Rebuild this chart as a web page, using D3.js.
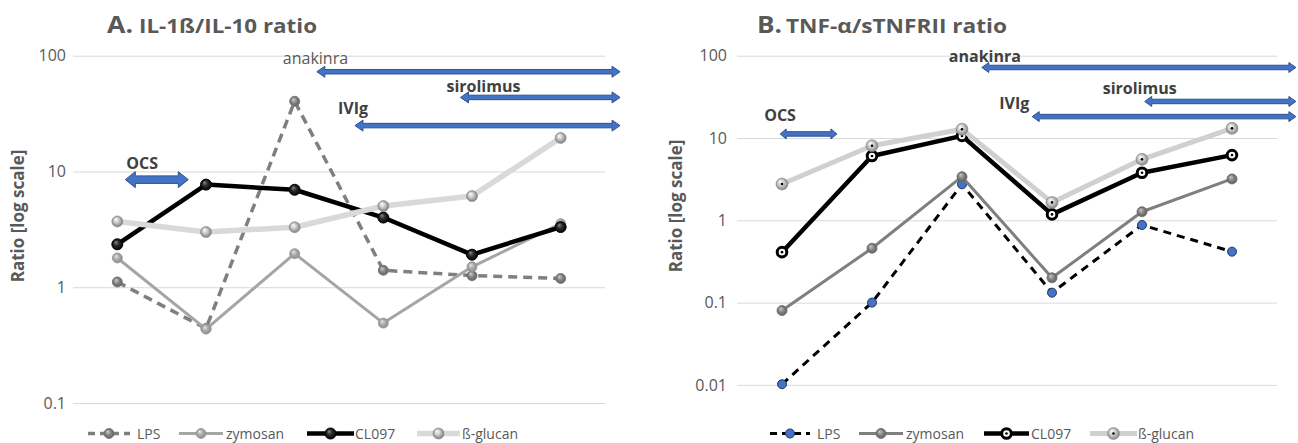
<!DOCTYPE html>
<html><head><meta charset="utf-8">
<script src="https://cdn.jsdelivr.net/npm/d3@7"></script>
<style>
body{margin:0;background:#fff}
text{font-family:'Open Sans',sans-serif}
</style>
</head><body>
<svg id="c" width="1298" height="443"></svg>
<script>
// ---------- data ----------
const timepoints = ["T1", "T2", "T3", "T4", "T5", "T6"];
const seriesNames = ["LPS", "zymosan", "CL097", "ß-glucan"];

const tickValuesA = [0.1, 1, 10, 100];
const tickLabelsA = ["0.1", "1", "10", "100"];
const tickValuesB = [0.01, 0.1, 1, 10, 100];
const tickLabelsB = ["0.01", "0.1", "1", "10", "100"];

// A. IL-1ß/IL-10 ratio
const lpsA     = [1.11, 0.44, 40.4, 1.40, 1.26, 1.19];
const zymosanA = [1.79, 0.435, 1.95, 0.49, 1.50, 3.54];
const cl097A   = [2.35, 7.7, 6.95, 4.0, 1.91, 3.31];
const glucanA  = [3.7, 3.0, 3.3, 5.03, 6.13, 19.5];

// B. TNF-α/sTNFRII ratio
const lpsB     = [0.0102, 0.1, 2.74, 0.132, 0.877, 0.416];
const zymosanB = [0.080, 0.457, 3.39, 0.20, 1.27, 3.18];
const cl097B   = [0.41, 6.04, 10.6, 1.18, 3.79, 6.2];
const glucanB  = [2.76, 8.06, 12.8, 1.65, 5.5, 13.1];

// treatment periods (in timepoint index units) and level (in ratio units)
const treatmentNames = ["anakinra", "sirolimus", "IVIg", "OCS"];
const treatStartA = [2.25, 3.87, 2.68, 0.09];
const treatEndA   = [5.67, 5.67, 5.67, 0.80];
const treatLevelA = [72.7, 43.6, 24.9, 8.5];
const treatStartB = [2.22, 4.03, 2.78, -0.02];
const treatEndB   = [5.71, 5.71, 5.71, 0.61];
const treatLevelB = [71.9, 27.8, 18.2, 11.2];

// ---------- drawing ----------
const svg = d3.select("#c");
svg.append("rect").attr("width", 1298).attr("height", 443).attr("fill", "#fff");
const defs = svg.append("defs");
function sphere(id, stops) {
  const g = defs.append("radialGradient").attr("id", id)
    .attr("cx", "50%").attr("cy", "50%").attr("r", "55%").attr("fx", "35%").attr("fy", "30%");
  stops.forEach(s => g.append("stop").attr("offset", s[0]).attr("stop-color", s[1]));
}
sphere("gLpsA", [["0%", "#cfcfcf"], ["55%", "#7f7f7f"], ["100%", "#5f5f5f"]]);
sphere("gZymA", [["0%", "#e6e6e6"], ["55%", "#a5a5a5"], ["100%", "#8a8a8a"]]);
sphere("gClA",  [["0%", "#8a8a8a"], ["45%", "#2a2a2a"], ["100%", "#000"]]);
sphere("gGluA", [["0%", "#ffffff"], ["40%", "#d0d0d0"], ["100%", "#737373"]]);
sphere("gZymB", [["0%", "#c8c8c8"], ["55%", "#7f7f7f"], ["100%", "#5a5a5a"]]);
sphere("gGluB", [["0%", "#ffffff"], ["50%", "#c9c9c9"], ["100%", "#7a7a7a"]]);

const panels = [
  {
    title1: "A.", title2: "IL-1ß/IL-10 ratio", t1x: 107, t2x: 139, t1len: 26, t2len: 178,
    xRange: [73, 605], yRange: [403, 55.7], domain: [0.1, 100],
    ticks: tickValuesA, tickLabels: tickLabelsA, tickX: 66,
    yTitleX: 24, yTitleY: 216,
    values: [lpsA, zymosanA, cl097A, glucanA],
    styles: [
      {stroke: "#7f7f7f", width: 3.5, dash: "9,6", r: 5, fill: "url(#gLpsA)", mstroke: "#6f6f6f", mw: 0.8},
      {stroke: "#a5a5a5", width: 3, dash: null, r: 5, fill: "url(#gZymA)", mstroke: "#999", mw: 0.8},
      {stroke: "#000000", width: 4.5, dash: null, r: 5.5, fill: "url(#gClA)", mstroke: "#000", mw: 1},
      {stroke: "#d9d9d9", width: 5.5, dash: null, r: 5.5, fill: "url(#gGluA)", mstroke: "#8a8a8a", mw: 0.6}
    ],
    treat: {start: treatStartA, end: treatEndA, level: treatLevelA},
    arrowSize: [[4.5, 5.5, 8], [4.5, 5.5, 8], [4.5, 5.5, 8], [7.5, 8, 10]],
    labels: [[-34, -8, 400], [-14, -5.5, 700], [-17, -12, 700], [1, -11, 700]],
    legendLine: [[88, 130], [179, 223], [307, 354], [417, 460]],
    legendText: [137, 226, 355, 462]
  },
  {
    title1: "B.", title2: "TNF-α/sTNFRII ratio", t1x: 757, t2x: 786, t1len: 25, t2len: 221,
    xRange: [737, 1277], yRange: [384.9, 55.7], domain: [0.01, 100],
    ticks: tickValuesB, tickLabels: tickLabelsB, tickX: 727,
    yTitleX: 682, yTitleY: 206,
    values: [lpsB, zymosanB, cl097B, glucanB],
    styles: [
      {stroke: "#000000", width: 3, dash: "8,6", r: 4.5, fill: "#4472c4", mstroke: "#1f3864", mw: 1},
      {stroke: "#7f7f7f", width: 3, dash: null, r: 5, fill: "url(#gZymB)", mstroke: "#6a6a6a", mw: 0.8},
      {stroke: "#000000", width: 4.5, dash: null, r: 4.8, fill: "#ffffff", mstroke: "#000", mw: 3, dot: true},
      {stroke: "#d0d0d0", width: 5, dash: null, r: 6, fill: "url(#gGluB)", mstroke: "#8a8a8a", mw: 0.6, dot: true}
    ],
    treat: {start: treatStartB, end: treatEndB, level: treatLevelB},
    arrowSize: [[4.5, 5, 7], [4.5, 5, 7], [4.5, 5, 7], [4.5, 5, 6]],
    labels: [[-33, -5.7, 700], [-42, -7.7, 700], [-33, -7.7, 700], [-16, -12.5, 700]],
    legendLine: [[770, 810], [859, 903], [984, 1029], [1090, 1137]],
    legendText: [817, 906, 1031, 1138]
  }
];

function arrowPath(x0, x1, y, sh, hh, hl) {
  const s = sh / 2;
  return `M${x0},${y} L${x0 + hl},${y - hh} L${x0 + hl},${y - s} L${x1 - hl},${y - s} L${x1 - hl},${y - hh} L${x1},${y} L${x1 - hl},${y + hh} L${x1 - hl},${y + s} L${x0 + hl},${y + s} L${x0 + hl},${y + hh} Z`;
}

function marker(g, cx, cy, st) {
  g.append("circle").attr("cx", cx).attr("cy", cy).attr("r", st.r)
    .attr("fill", st.fill).attr("stroke", st.mstroke).attr("stroke-width", st.mw);
  if (st.dot) g.append("circle").attr("cx", cx).attr("cy", cy).attr("r", 1.3).attr("fill", "#000");
}

panels.forEach(p => {
  const g = svg.append("g");
  const xp = d3.scalePoint().domain(timepoints).range(p.xRange).padding(0.5);
  const xi = d3.scaleLinear().domain([-0.5, timepoints.length - 0.5]).range(p.xRange);
  const y = d3.scaleLog().domain(p.domain).range(p.yRange);

  const axis = d3.axisLeft(y).tickValues(p.ticks)
    .tickFormat((d, i) => p.tickLabels[i])
    .tickSize(-(p.xRange[1] - p.xRange[0])).tickPadding(7);
  const ag = g.append("g").attr("transform", `translate(${p.xRange[0]},0)`).call(axis);
  ag.select(".domain").remove();
  ag.selectAll(".tick line").attr("stroke", "#d9d9d9").attr("stroke-width", 1);
  ag.selectAll(".tick text").attr("fill", "#595959").attr("font-size", 16)
    .attr("font-family", "'Open Sans',sans-serif").attr("x", p.tickX - p.xRange[0]);

  g.append("text").attr("x", p.t1x).attr("y", 33).attr("font-size", 23).attr("font-weight", 700)
    .attr("fill", "#595959").attr("textLength", p.t1len).attr("lengthAdjust", "spacingAndGlyphs").text(p.title1);
  g.append("text").attr("x", p.t2x).attr("y", 33).attr("font-size", 19).attr("font-weight", 700)
    .attr("fill", "#595959").attr("textLength", p.t2len).attr("lengthAdjust", "spacingAndGlyphs").text(p.title2);

  g.append("text").attr("transform", `translate(${p.yTitleX},${p.yTitleY}) rotate(-90)`)
    .attr("text-anchor", "middle").attr("font-size", 17).attr("font-weight", 700)
    .attr("fill", "#595959").text("Ratio [log scale]");

  treatmentNames.forEach((name, i) => {
    const x0 = xi(p.treat.start[i]), x1 = xi(p.treat.end[i]), yy = y(p.treat.level[i]);
    const [sh, hh, hl] = p.arrowSize[i];
    g.append("path").attr("d", arrowPath(x0, x1, yy, sh, hh, hl))
      .attr("fill", "#4472c4").attr("stroke", "#2f528f").attr("stroke-width", 1);
    const [dx, dy, fw] = p.labels[i];
    g.append("text").attr("x", x0 + dx).attr("y", yy + dy).attr("font-size", 16)
      .attr("font-weight", fw).attr("fill", fw === 700 ? "#404040" : "#595959").text(name);
  });

  const line = d3.line().x((d, i) => xp(timepoints[i])).y(d => y(d));
  p.values.forEach((vals, si) => {
    const st = p.styles[si];
    const sg = g.append("g");
    sg.append("path").datum(vals).attr("d", line).attr("fill", "none")
      .attr("stroke", st.stroke).attr("stroke-width", st.width)
      .attr("stroke-dasharray", st.dash).attr("stroke-linejoin", "round");
    vals.forEach((v, i) => marker(sg, xp(timepoints[i]), y(v), st));
  });

  const ly = 433.5;
  seriesNames.forEach((name, si) => {
    const st = p.styles[si];
    const [a, b] = p.legendLine[si];
    g.append("line").attr("x1", a).attr("x2", b).attr("y1", ly).attr("y2", ly)
      .attr("stroke", st.stroke).attr("stroke-width", st.width)
      .attr("stroke-dasharray", st.dash ? "7,5" : null);
    marker(g, (a + b) / 2, ly, st);
    g.append("text").attr("x", p.legendText[si]).attr("y", ly + 5).attr("font-size", 14)
      .attr("fill", "#595959").text(name);
  });
});
</script>
</body></html>
